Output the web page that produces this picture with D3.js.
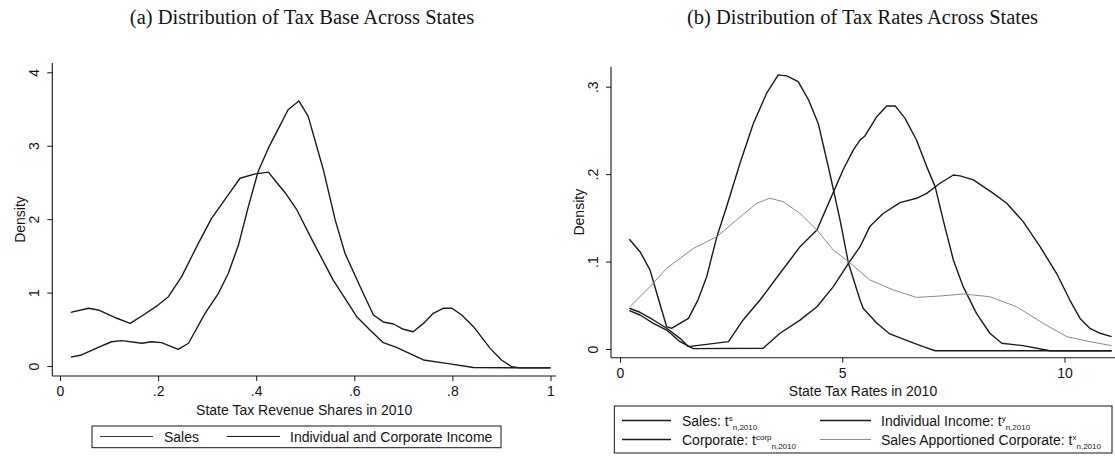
<!DOCTYPE html>
<html>
<head>
<meta charset="utf-8">
<script src="https://cdn.jsdelivr.net/npm/d3@7"></script>
<style>
  body { margin: 0; background: #fff; }
  svg { display: block; }
  text { font-family: "Liberation Sans", Arial, sans-serif; fill: #141414; }
  .title { font-family: "Liberation Serif", "Times New Roman", serif; }
</style>
</head>
<body>
<svg id="chart" width="1115" height="458"></svg>
<script>
// ---- Panel (a): distribution of tax base (revenue shares) ----
const shareTitle = "(a) Distribution of Tax Base Across States";
const shareAxisTitle = "State Tax Revenue Shares in 2010";
const shareTicks = [0, 0.2, 0.4, 0.6, 0.8, 1];
const shareDensityTicks = [0, 1, 2, 3, 4];
const shareSeriesNames = ["Sales", "Individual and Corporate Income"];

// [share, density]
const salesShare = [
  [0.022, 0.12], [0.044, 0.15], [0.078, 0.255], [0.105, 0.33], [0.126, 0.345],
  [0.167, 0.31], [0.187, 0.33], [0.207, 0.318], [0.241, 0.227], [0.262, 0.31],
  [0.296, 0.72], [0.323, 0.99], [0.343, 1.26], [0.364, 1.65], [0.384, 2.17],
  [0.404, 2.65], [0.425, 2.97], [0.449, 3.28], [0.465, 3.49], [0.487, 3.61],
  [0.506, 3.40], [0.537, 2.67], [0.561, 1.99], [0.581, 1.535], [0.612, 1.08],
  [0.639, 0.695], [0.659, 0.60], [0.68, 0.572], [0.70, 0.50], [0.72, 0.467],
  [0.741, 0.58], [0.761, 0.718], [0.781, 0.786], [0.799, 0.786], [0.819, 0.695],
  [0.843, 0.536], [0.877, 0.24], [0.90, 0.082], [0.921, -0.01], [0.938, -0.025],
  [1.0, -0.025]
];
const incomeShare = [
  [0.022, 0.731], [0.058, 0.786], [0.078, 0.763], [0.116, 0.65], [0.143, 0.58],
  [0.17, 0.695], [0.2, 0.83], [0.221, 0.944], [0.248, 1.217], [0.282, 1.67],
  [0.309, 2.01], [0.343, 2.33], [0.367, 2.557], [0.398, 2.616], [0.425, 2.64],
  [0.438, 2.53], [0.459, 2.36], [0.483, 2.125], [0.516, 1.69], [0.557, 1.17],
  [0.605, 0.672], [0.632, 0.49], [0.659, 0.318], [0.686, 0.254], [0.741, 0.082],
  [0.788, 0.036], [0.843, -0.02], [0.938, -0.025], [1.0, -0.025]
];

// ---- Panel (b): distribution of tax rates ----
const rateTitle = "(b) Distribution of Tax Rates Across States";
const rateAxisTitle = "State Tax Rates in 2010";
const rateTicks = [0, 5, 10];
const rateDensityTicks = [0, 0.1, 0.2, 0.3];
const rateSeriesNames = ["Sales: ", "Individual Income: ", "Corporate: ", "Sales Apportioned Corporate: "];
const rateSeriesSup = ["s", "y", "corp", "x"];
const rateSeriesSub = "n,2010";

// [rate, density]
const salesRate = [
  [0.21, 0.1255], [0.45, 0.1113], [0.675, 0.0904], [0.86, 0.058], [1.05, 0.0255],
  [1.16, 0.0237], [1.54, 0.035], [1.76, 0.0568], [1.95, 0.0827], [2.18, 0.1285],
  [2.40, 0.163], [2.70, 0.2125], [3.00, 0.258], [3.30, 0.2926], [3.56, 0.3135],
  [3.75, 0.3124], [4.01, 0.3058], [4.24, 0.285], [4.46, 0.258], [4.72, 0.201],
  [4.95, 0.1476], [5.14, 0.098], [5.40, 0.056], [5.47, 0.0466], [5.78, 0.0294],
  [6.07, 0.0172], [6.52, 0.0084], [6.82, 0.0027], [7.09, -0.002], [11.06, -0.002]
];
const incomeRate = [
  [0.21, 0.0466], [0.45, 0.042], [0.75, 0.0332], [1.05, 0.0237], [1.35, 0.0122],
  [1.54, 0.0027], [2.44, 0.0084], [2.77, 0.0332], [3.15, 0.056], [3.60, 0.0866],
  [4.05, 0.117], [4.43, 0.136], [4.72, 0.170], [5.02, 0.205], [5.25, 0.2277],
  [5.40, 0.239], [5.51, 0.2437], [5.78, 0.266], [6.0, 0.278], [6.19, 0.278],
  [6.41, 0.264], [6.67, 0.239], [6.90, 0.2086], [7.09, 0.1857], [7.27, 0.1476],
  [7.5, 0.1018], [7.72, 0.0713], [8.02, 0.0408], [8.32, 0.018], [8.59, 0.0065],
  [9.07, 0.0038], [9.67, -0.002], [11.06, -0.002]
];
const corpRate = [
  [0.21, 0.0438], [0.45, 0.0389], [0.75, 0.0294], [1.05, 0.0217], [1.35, 0.0084],
  [1.65, 0.0004], [3.22, 0.0008], [3.6, 0.018], [4.05, 0.033], [4.43, 0.0484],
  [4.80, 0.0713], [5.14, 0.098], [5.40, 0.117], [5.62, 0.140], [5.92, 0.155],
  [6.30, 0.1674], [6.67, 0.1724], [6.90, 0.178], [7.2, 0.1896], [7.50, 0.199],
  [7.65, 0.198], [7.95, 0.1934], [8.40, 0.178], [8.70, 0.1667], [9.07, 0.1457],
  [9.45, 0.117], [9.82, 0.0866], [10.12, 0.056], [10.35, 0.035], [10.57, 0.0237],
  [10.80, 0.018], [11.06, 0.0141]
];
const apportionedRate = [
  [0.225, 0.0484], [0.675, 0.0713], [1.05, 0.0923], [1.65, 0.115], [2.18, 0.1285],
  [2.70, 0.151], [3.08, 0.1667], [3.37, 0.1724], [3.67, 0.1685], [4.05, 0.155],
  [4.43, 0.136], [4.80, 0.113], [5.14, 0.0999], [5.62, 0.079], [6.15, 0.0675],
  [6.67, 0.059], [7.20, 0.0606], [7.72, 0.0629], [8.32, 0.0598], [8.92, 0.0484],
  [9.52, 0.0294], [10.05, 0.0141], [10.57, 0.0084], [11.06, 0.0038]
];

const svg = d3.select("#chart");
const fmt = d => String(d).replace(/^0\./, ".");
const ink = "#141414";

function drawPanel(cfg) {
  const g = svg.append("g");
  const x = d3.scaleLinear().domain(cfg.xDomain).range(cfg.xRange);
  const y = d3.scaleLinear().domain(cfg.yDomain).range(cfg.yRange);

  // axis lines (left and bottom only)
  g.append("line").attr("x1", cfg.axisX).attr("x2", cfg.axisX)
    .attr("y1", cfg.axisTop).attr("y2", cfg.axisY)
    .attr("stroke", ink).attr("stroke-width", 1.1);
  g.append("line").attr("x1", cfg.axisX).attr("x2", cfg.axisRight)
    .attr("y1", cfg.axisY).attr("y2", cfg.axisY)
    .attr("stroke", ink).attr("stroke-width", 1.1);

  const ya = g.append("g").attr("transform", `translate(${cfg.axisX},0)`)
    .call(d3.axisLeft(y).tickValues(cfg.yTicks).tickFormat(fmt).tickSize(5).tickSizeOuter(0));
  ya.select(".domain").remove();
  ya.selectAll(".tick line").attr("stroke", ink);
  ya.selectAll(".tick text")
    .attr("x", null).attr("dy", null)
    .attr("transform", `translate(${cfg.yLabelX - cfg.axisX},0) rotate(-90)`)
    .attr("text-anchor", "middle").attr("dominant-baseline", "central")
    .style("font-family", "Liberation Sans, Arial, sans-serif").style("font-size", "14px").attr("fill", ink);

  const xa = g.append("g").attr("transform", `translate(0,${cfg.axisY})`)
    .call(d3.axisBottom(x).tickValues(cfg.xTicks).tickFormat(fmt).tickSize(5).tickSizeOuter(0));
  xa.select(".domain").remove();
  xa.selectAll(".tick line").attr("stroke", ink);
  xa.selectAll(".tick text")
    .attr("y", 15).attr("dy", null).attr("dominant-baseline", "central")
    .style("font-family", "Liberation Sans, Arial, sans-serif").style("font-size", "14px").attr("fill", ink);

  // axis titles
  g.append("text").attr("x", (cfg.axisX + cfg.axisRight) / 2).attr("y", cfg.axisY + 33.5)
    .attr("text-anchor", "middle").attr("dominant-baseline", "central")
    .style("font-size", "14px").text(cfg.xTitle);
  g.append("text")
    .attr("transform", `translate(${cfg.yTitleX},${(cfg.axisTop + cfg.axisY) / 2}) rotate(-90)`)
    .attr("text-anchor", "middle").attr("dominant-baseline", "central")
    .style("font-size", "14px").text("Density");

  // panel title
  g.append("text").attr("class", "title")
    .attr("x", cfg.titleX).attr("y", 24).attr("text-anchor", "middle")
    .style("font-size", "20.5px").text(cfg.title);

  // density curves
  const line = d3.line().x(d => x(d[0])).y(d => y(d[1]));
  cfg.series.forEach(s => {
    g.append("path").datum(s.data).attr("d", line)
      .attr("fill", "none").attr("stroke", s.color).attr("stroke-width", s.width)
      .attr("stroke-linejoin", "round");
  });
  return g;
}

// Panel (a)
drawPanel({
  xDomain: [0, 1], xRange: [60, 550.5],
  yDomain: [0, 4], yRange: [366, 72.3],
  axisX: 52.3, axisY: 376, axisTop: 63, axisRight: 556,
  xTicks: shareTicks, yTicks: shareDensityTicks,
  yLabelX: 34, yTitleX: 19.5, titleX: 302,
  xTitle: shareAxisTitle, title: shareTitle,
  series: [
    { data: salesShare, color: "#1a1a1a", width: 1.4 },
    { data: incomeShare, color: "#1a1a1a", width: 1.4 }
  ]
});

// Panel (b)
drawPanel({
  xDomain: [0, 10], xRange: [620, 1064.5],
  yDomain: [0, 0.3], yRange: [349, 86.7],
  axisX: 611, axisY: 357.7, axisTop: 66.7, axisRight: 1115,
  xTicks: rateTicks, yTicks: rateDensityTicks,
  yLabelX: 593.3, yTitleX: 579, titleX: 862.5,
  xTitle: rateAxisTitle, title: rateTitle,
  series: [
    { data: salesRate, color: "#1a1a1a", width: 1.4 },
    { data: incomeRate, color: "#1a1a1a", width: 1.4 },
    { data: corpRate, color: "#1a1a1a", width: 1.4 },
    { data: apportionedRate, color: "#8a8a8a", width: 1.0 }
  ]
});

// Legend (a): one row, two keys
{
  const lg = svg.append("g");
  lg.append("rect").attr("x", 92).attr("y", 426).attr("width", 409).attr("height", 21.7)
    .attr("fill", "none").attr("stroke", ink).attr("stroke-width", 1);
  const keys = [
    { x1: 100, x2: 153, tx: 164, name: shareSeriesNames[0], color: "#3a3a3a" },
    { x1: 227, x2: 280, tx: 290, name: shareSeriesNames[1], color: "#1a1a1a" }
  ];
  keys.forEach(k => {
    lg.append("line").attr("x1", k.x1).attr("x2", k.x2).attr("y1", 436.5).attr("y2", 436.5)
      .attr("stroke", k.color).attr("stroke-width", 1.2);
    lg.append("text").attr("x", k.tx).attr("y", 436.8).attr("dominant-baseline", "central")
      .style("font-size", "14px").text(k.name);
  });
}

// Legend (b): two rows, two columns
{
  const lg = svg.append("g");
  lg.append("rect").attr("x", 614.3).attr("y", 406).attr("width", 497.7).attr("height", 47)
    .attr("fill", "none").attr("stroke", ink).attr("stroke-width", 1);
  const cols = [{ x1: 622, x2: 671, tx: 682 }, { x1: 820, x2: 871, tx: 881 }];
  const rows = [420.5, 439.5];
  const colors = ["#1a1a1a", "#1a1a1a", "#1a1a1a", "#8a8a8a"];
  rateSeriesNames.forEach((name, i) => {
    const c = cols[i % 2], ry = rows[Math.floor(i / 2)];
    lg.append("line").attr("x1", c.x1).attr("x2", c.x2).attr("y1", ry).attr("y2", ry)
      .attr("stroke", colors[i]).attr("stroke-width", i === 3 ? 1.1 : 1.3);
    const t = lg.append("text").attr("x", c.tx).attr("y", ry + 5).style("font-size", "14px");
    t.append("tspan").text(name + "t");
    t.append("tspan").attr("dy", -5).style("font-size", "8px").text(rateSeriesSup[i]);
    t.append("tspan").attr("dy", 9).style("font-size", "8px").text(rateSeriesSub);
  });
}
</script>
</body>
</html>
